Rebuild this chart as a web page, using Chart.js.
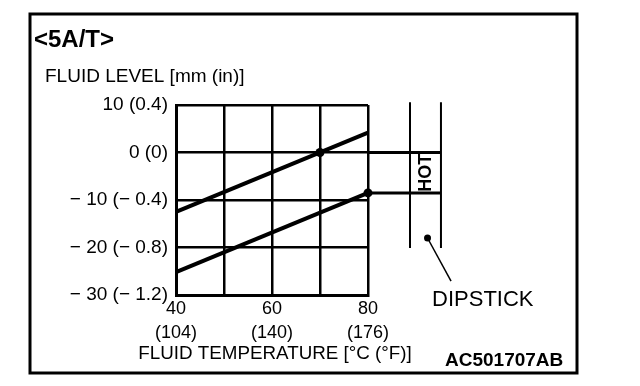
<!DOCTYPE html>
<html>
<head>
<meta charset="utf-8">
<script src="https://cdn.jsdelivr.net/npm/chart.js@4.4.0/dist/chart.umd.min.js"></script>
<style>
  html, body { margin: 0; padding: 0; background: #fff; }
</style>
</head>
<body>
<canvas id="c" width="640" height="386"></canvas>
<script>
// Eixos
const tempTicks = [40, 50, 60, 70, 80];
const tempLabels = { 40: ['40', '(104)'], 50: '', 60: ['60', '(140)'], 70: '', 80: ['80', '(176)'] };
const levelTicks = [10, 0, -10, -20, -30];
const levelLabels = { 10: '10 (0.4)', 0: '0 (0)', '-10': '\u2212 10 (\u2212 0.4)', '-20': '\u2212 20 (\u2212 0.8)', '-30': '\u2212 30 (\u2212 1.2)' };

// Linhas de nível (temperatura °C, nível mm)
const upperLine = [{ x: 40, y: -12.5 }, { x: 80, y: 4.2 }];
const lowerLine = [{ x: 40, y: -25.2 }, { x: 80, y: -8.5 }];
const levelDots = [{ x: 70, y: 0 }, { x: 80, y: -8.5 }];

// Vareta (fora da área do gráfico)
const hotUpper = [{ x: 80, y: 0 }, { x: 95.2, y: 0 }];
const hotLower = [{ x: 80, y: -8.5 }, { x: 95.2, y: -8.5 }];
const stickLeft = [{ x: 88.75, y: 10.6 }, { x: 88.75, y: -20.1 }];
const stickRight = [{ x: 95.2, y: 10.6 }, { x: 95.2, y: -20.1 }];
const stickDot = { x: 92.4, y: -18 };
const stickLeader = [{ x: 92.4, y: -18 }, { x: 97.3, y: -27.1 }];

const FONT = 'Liberation Sans, Arial, sans-serif';

function lineSet(data, width) {
    return {
        data: data,
        borderColor: '#000',
        borderWidth: width,
        pointRadius: 0,
        fill: false,
        clip: false
    };
}

const decor = {
    id: 'decor',
    afterDraw(chart) {
        const ctx = chart.ctx;
        const x = chart.scales.x, y = chart.scales.y;
        const area = chart.chartArea;
        ctx.save();
        ctx.strokeStyle = '#000';
        ctx.fillStyle = '#000';
        ctx.lineWidth = 3;
        ctx.strokeRect(30, 14, 547, 359);

        ctx.textBaseline = 'middle';
        ctx.textAlign = 'left';
        ctx.font = 'bold 24px ' + FONT;
        ctx.fillText('<5A/T>', 34, 40);
        ctx.font = '19px ' + FONT;
        ctx.fillText('FLUID LEVEL [mm (in)]', 45, 77);

        ctx.textAlign = 'center';
        ctx.font = '18.8px ' + FONT;
        ctx.fillText('FLUID TEMPERATURE [\u00b0C (\u00b0F)]', (area.left + area.right) / 2 + 3, 354);

        // ponto da vareta (fora da área, o Chart.js não o desenha)
        ctx.beginPath();
        ctx.arc(x.getPixelForValue(stickDot.x), y.getPixelForValue(stickDot.y), 3.5, 0, Math.PI * 2);
        ctx.fill();

        // HOT, escrito na vertical
        const hx = (x.getPixelForValue(88.75) + x.getPixelForValue(95.2)) / 2;
        const hy = (y.getPixelForValue(0) + y.getPixelForValue(-8.5)) / 2;
        ctx.save();
        ctx.translate(hx + 1, hy);
        ctx.rotate(-Math.PI / 2);
        ctx.textAlign = 'center';
        ctx.font = 'bold 18px ' + FONT;
        ctx.fillText('HOT', 0, 0);
        ctx.restore();

        ctx.textAlign = 'left';
        ctx.font = '22px ' + FONT;
        ctx.fillText('DIPSTICK', x.getPixelForValue(97.3) - 19, y.getPixelForValue(-27.1) + 19);
        ctx.font = 'bold 19px ' + FONT;
        ctx.fillText('AC501707AB', 445, 361);
        ctx.restore();
    }
};

new Chart(document.getElementById('c'), {
    type: 'line',
    data: {
        datasets: [
            lineSet(upperLine, 4),
            lineSet(lowerLine, 4),
            lineSet(hotUpper, 3),
            lineSet(hotLower, 3),
            lineSet(stickLeft, 2),
            lineSet(stickRight, 2),
            lineSet(stickLeader, 1.5),
            {
                data: levelDots,
                showLine: false,
                pointRadius: 4.5,
                pointBackgroundColor: '#000',
                pointBorderWidth: 0,
                clip: false
            }
        ]
    },
    options: {
        responsive: false,
        animation: false,
        events: [],
        layout: { padding: { top: 105, right: 272, bottom: 13, left: 0 } },
        plugins: {
            legend: { display: false },
            tooltip: { enabled: false },
            title: { display: false }
        },
        scales: {
            x: {
                type: 'linear',
                min: 40,
                max: 80,
                afterBuildTicks: s => { s.ticks = tempTicks.map(v => ({ value: v })); },
                afterFit: s => { s.height = 78; },
                grid: { color: '#000', lineWidth: 2.5, drawTicks: false },
                border: { color: '#000', width: 3 },
                ticks: {
                    callback: v => tempLabels[v],
                    color: '#000',
                    font: { family: FONT, size: 18, lineHeight: 1.28 },
                    padding: 3,
                    maxRotation: 0,
                    autoSkip: false
                }
            },
            y: {
                min: -30,
                max: 10,
                afterBuildTicks: s => { s.ticks = levelTicks.map(v => ({ value: v })); },
                afterFit: s => { s.width = 176; },
                grid: { color: '#000', lineWidth: 2.5, drawTicks: false },
                border: { color: '#000', width: 3 },
                ticks: {
                    callback: v => levelLabels[v],
                    color: '#000',
                    font: { family: FONT, size: 19 },
                    padding: 8,
                    autoSkip: false
                }
            }
        }
    },
    plugins: [decor]
});
</script>
</body>
</html>
